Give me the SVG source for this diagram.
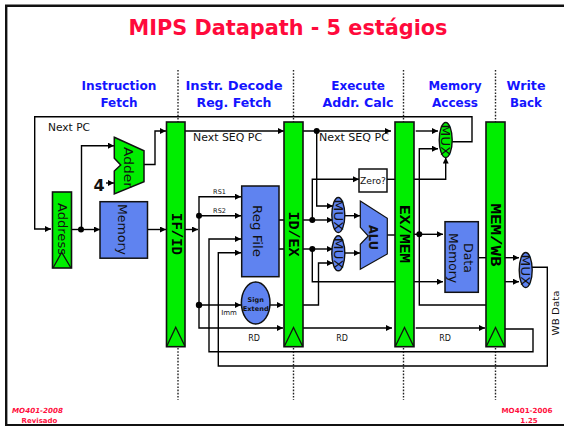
<svg xmlns="http://www.w3.org/2000/svg" width="564" height="426" viewBox="0 0 564 426">
<defs>
<marker id="a" markerUnits="userSpaceOnUse" markerWidth="7" markerHeight="7" refX="6" refY="3" orient="auto"><path d="M0 0L6 3L0 6z" fill="#000"/></marker>
</defs>
<style>
.w{fill:none;stroke:#000;stroke-width:1.4}
.aw{fill:none;stroke:#000;stroke-width:1.4;marker-end:url(#a)}
.d{fill:#000;stroke:none}
.dot{fill:none;stroke:#222;stroke-width:1.4;stroke-dasharray:1.6 1.6}
.reg{fill:#00ee00;stroke:#111;stroke-width:1.6}
.blk{fill:#5f83f0;stroke:#111;stroke-width:1.5}
.clk{fill:none;stroke:#111;stroke-width:1.3}
.mx{stroke:#111;stroke-width:1.4}
.t{font-family:"DejaVu Sans",sans-serif;fill:#111;text-anchor:middle}
.s{font-family:"DejaVu Sans",sans-serif;font-weight:bold;font-size:12px;fill:#1414ff;text-anchor:middle}
.r{font-family:"Liberation Mono",monospace;font-weight:bold;font-size:15px;fill:#000;text-anchor:middle}
.f{font-family:"DejaVu Sans",sans-serif;font-weight:bold;font-size:7px;fill:#ff1040;text-anchor:middle}
</style>
<path d="M564 5.800H6.200V425.300H564" fill="none" stroke="#111" stroke-width="2.400"/>
<g id="title"><text x="288" y="35" font-family="DejaVu Sans, sans-serif" font-weight="bold" font-size="22" fill="#ff0a3c" text-anchor="middle" textLength="319" lengthAdjust="spacingAndGlyphs">MIPS Datapath - 5 estágios</text></g>
<g id="stage-labels">
<text class="s" x="119" y="90" textLength="75" lengthAdjust="spacingAndGlyphs">Instruction</text><text class="s" x="119" y="107">Fetch</text>
<text class="s" x="234" y="90" textLength="97" lengthAdjust="spacingAndGlyphs">Instr. Decode</text><text class="s" x="234" y="107" textLength="75" lengthAdjust="spacingAndGlyphs">Reg. Fetch</text>
<text class="s" x="358" y="90">Execute</text><text class="s" x="358" y="107" textLength="71" lengthAdjust="spacingAndGlyphs">Addr. Calc</text>
<text class="s" x="455" y="90" textLength="53" lengthAdjust="spacingAndGlyphs">Memory</text><text class="s" x="455" y="107" textLength="46" lengthAdjust="spacingAndGlyphs">Access</text>
<text class="s" x="526" y="90" textLength="39" lengthAdjust="spacingAndGlyphs">Write</text><text class="s" x="526" y="107" textLength="32" lengthAdjust="spacingAndGlyphs">Back</text>
</g>
<g id="stage-dividers">
<path class="dot" d="M178 70V122M178 348V400M293.500 70V122M293.500 348V400M403.500 70V122M403.500 348V400M495.500 70V122M495.500 348V400"/>
</g>
<g id="connectors">
<path class="aw" d="M452 141.700H472V116.700H34.700V229H51"/>
<path class="aw" d="M72 229.500H100"/>
<path class="aw" d="M81.500 229.500V145.700H114"/>
<path class="aw" d="M106 183H114"/>
<path class="aw" d="M144 164.500H155V131H166"/>
<path class="aw" d="M148 229.500H166"/>
<path class="aw" d="M185 229.500H198"/>
<path class="aw" d="M185 131H284"/>
<path class="aw" d="M199 215.700V196.700H241"/>
<path class="aw" d="M199 215.700H241"/>
<path class="aw" d="M199 215.700V328H283"/>
<path class="aw" d="M199 305H241"/>
<path class="aw" d="M270 305H283"/>
<path class="aw" d="M505 329H533V351.700H209V239H241"/>
<path class="aw" d="M532 267.300H547.300V366H218.300V252.700H241"/>
<path class="w" d="M279 220H284M279 249H284"/>
<path class="aw" d="M303 131H391"/>
<path class="aw" d="M316.700 131V206H333"/>
<path class="aw" d="M303 220H333"/>
<path class="aw" d="M312.300 220V179.300H359"/>
<path class="aw" d="M303 249H333"/>
<path class="w" d="M312.300 249V281.700H395"/>
<path class="aw" d="M303 305H318.500V263H333"/>
<path class="aw" d="M345 215.700H360"/>
<path class="aw" d="M345 253H360"/>
<path class="w" d="M387 235H395"/>
<path class="w" d="M387 179.300H395"/>
<path class="aw" d="M414 179.300H445.700V157.500"/>
<path class="aw" d="M303 328H392"/>
<path class="aw" d="M415.700 328H485"/>
<path class="aw" d="M415.700 131H438"/>
<path class="aw" d="M486 305H419.300V148.700H438"/>
<path class="aw" d="M414 234.300H443"/>
<path class="aw" d="M414 281.700H443"/>
<path class="w" d="M478 257.700H486"/>
<path class="aw" d="M505 257.700H519"/>
<path class="aw" d="M505 281.700H519"/>
<circle class="d" cx="81" cy="229.500" r="3"/>
<circle class="d" cx="199" cy="215.700" r="3"/>
<circle class="d" cx="199" cy="305" r="3.200"/>
<circle class="d" cx="316.700" cy="131" r="3"/>
<circle class="d" cx="312.300" cy="220" r="3"/>
<circle class="d" cx="312.300" cy="249" r="3"/>
<circle class="d" cx="419.300" cy="234.300" r="3"/>
</g>
<g id="wire-labels">
<text class="t" x="69" y="131" font-size="10" textLength="42" lengthAdjust="spacingAndGlyphs">Next PC</text>
<text class="t" x="227.500" y="140.500" font-size="10" textLength="69" lengthAdjust="spacingAndGlyphs">Next SEQ PC</text>
<text class="t" x="354" y="140.500" font-size="10" textLength="70" lengthAdjust="spacingAndGlyphs">Next SEQ PC</text>
<text class="t" x="219.500" y="193.500" font-size="6.500">RS1</text>
<text class="t" x="219.500" y="212.500" font-size="6.500">RS2</text>
<text class="t" x="229" y="315" font-size="7">Imm</text>
<text class="t" x="254" y="341" font-size="8">RD</text>
<text class="t" x="342" y="341" font-size="8">RD</text>
<text class="t" x="445" y="341" font-size="8">RD</text>
<text class="t" transform="translate(559 313) rotate(-90)" font-size="9.500" textLength="45" lengthAdjust="spacingAndGlyphs">WB Data</text>
<text x="99" y="191" font-family="DejaVu Sans, sans-serif" font-weight="bold" font-size="16" fill="#111" text-anchor="middle">4</text>
</g>
<g id="address"><rect class="reg" x="52.500" y="192" width="19" height="76"/><text class="t" transform="translate(58 229) rotate(90)" font-size="12" textLength="52" lengthAdjust="spacingAndGlyphs">Address</text><path class="clk" d="M53 268L61.700 252.300L71 268"/></g>
<g id="adder"><polygon points="114.300,137.300 144,150.700 144,181.700 114.300,194 114.300,171 120.700,165 114.300,158.300" fill="#00ee00" stroke="#111" stroke-width="1.500"/><text class="t" transform="translate(124 167.500) rotate(90)" font-size="12" textLength="41" lengthAdjust="spacingAndGlyphs">Adder</text></g>
<g id="memory"><rect class="blk" x="100" y="201.700" width="47.500" height="56.500"/><text class="t" transform="translate(118 229.500) rotate(90)" font-size="12.500" textLength="51" lengthAdjust="spacingAndGlyphs">Memory</text></g>
<g id="if-id"><rect class="reg" x="166.500" y="122" width="18.500" height="224.700"/><text class="r" transform="translate(171.500 234) rotate(90)" textLength="42" lengthAdjust="spacingAndGlyphs">IF/ID</text><path class="clk" d="M167 345.700L175.700 327.300L184.700 345.700"/></g>
<g id="reg-file"><rect class="blk" x="241.700" y="186" width="37.300" height="90.700"/><text class="t" transform="translate(252.500 231) rotate(90)" font-size="13" textLength="52" lengthAdjust="spacingAndGlyphs">Reg File</text></g>
<g id="sign-extend"><ellipse class="blk" cx="255.700" cy="303" rx="14.300" ry="21"/><text x="255.700" y="302" font-family="DejaVu Sans, sans-serif" font-weight="bold" font-size="6.500" fill="#111" text-anchor="middle">Sign</text><text x="255.700" y="311" font-family="DejaVu Sans, sans-serif" font-weight="bold" font-size="6.500" fill="#111" text-anchor="middle" textLength="26" lengthAdjust="spacingAndGlyphs">Extend</text></g>
<g id="id-ex"><rect class="reg" x="284" y="122" width="19" height="224.700"/><text class="r" transform="translate(289 234) rotate(90)" textLength="45" lengthAdjust="spacingAndGlyphs">ID/EX</text><path class="clk" d="M284.500 346L293.500 327.500L302.500 346"/></g>
<g id="zero"><rect x="359" y="169" width="28" height="23" fill="#fff" stroke="#111" stroke-width="1.500"/><text class="t" x="373" y="183.500" font-size="8.500" textLength="26" lengthAdjust="spacingAndGlyphs">Zero?</text></g>
<g id="mux-a"><ellipse class="mx" cx="338.300" cy="215" rx="6.500" ry="17.500" fill="#5f83f0"/><text class="t" transform="translate(334 215) rotate(90)" font-size="12" textLength="31" lengthAdjust="spacingAndGlyphs">MUX</text></g>
<g id="mux-b"><ellipse class="mx" cx="338.300" cy="253.300" rx="6.500" ry="17.500" fill="#5f83f0"/><text class="t" transform="translate(334 253.300) rotate(90)" font-size="12" textLength="31" lengthAdjust="spacingAndGlyphs">MUX</text></g>
<g id="alu"><polygon points="360.300,201 387.300,218.300 387.300,254 360.300,269.300 360.300,244.300 368.300,236 360.300,227.300" fill="#5f83f0" stroke="#111" stroke-width="1.200"/><text class="t" transform="translate(369 237.500) rotate(90)" font-size="12" font-weight="bold" textLength="25" lengthAdjust="spacingAndGlyphs">ALU</text></g>
<g id="ex-mem"><rect class="reg" x="395" y="122" width="19" height="224.700"/><text class="r" transform="translate(399.500 234) rotate(90)" textLength="58" lengthAdjust="spacingAndGlyphs">EX/MEM</text><path class="clk" d="M395.500 346L404.500 327.500L413.500 346"/></g>
<g id="mux-mem"><ellipse class="mx" cx="445.700" cy="140" rx="6.500" ry="17.500" fill="#00ee00"/><text class="t" transform="translate(441.400 140) rotate(90)" font-size="12" textLength="31" lengthAdjust="spacingAndGlyphs">MUX</text></g>
<g id="data-memory"><rect class="blk" x="445" y="221.700" width="33.300" height="70.600"/><text class="t" transform="translate(463.500 258) rotate(90)" font-size="12" textLength="30" lengthAdjust="spacingAndGlyphs">Data</text><text class="t" transform="translate(449 258) rotate(90)" font-size="12" textLength="50" lengthAdjust="spacingAndGlyphs">Memory</text></g>
<g id="mem-wb"><rect class="reg" x="486" y="122" width="19" height="224.700"/><text class="r" transform="translate(491 235) rotate(90)" textLength="63" lengthAdjust="spacingAndGlyphs">MEM/WB</text><path class="clk" d="M486.500 346L495.500 327.500L504.500 346"/></g>
<g id="mux-wb"><ellipse class="mx" cx="525.700" cy="270" rx="6.500" ry="17.500" fill="#5f83f0"/><text class="t" transform="translate(521.400 270) rotate(90)" font-size="12" textLength="31" lengthAdjust="spacingAndGlyphs">MUX</text></g>
<g id="footer">
<text class="f" x="37.500" y="412.500" font-style="italic" textLength="51" lengthAdjust="spacingAndGlyphs">MO401-2008</text><text class="f" x="39.500" y="422.500" font-size="6">Revisado</text>
<text class="f" x="527" y="412.500" textLength="51" lengthAdjust="spacingAndGlyphs">MO401-2006</text><text class="f" x="529" y="422.500">1.25</text>
</g>
</svg>
